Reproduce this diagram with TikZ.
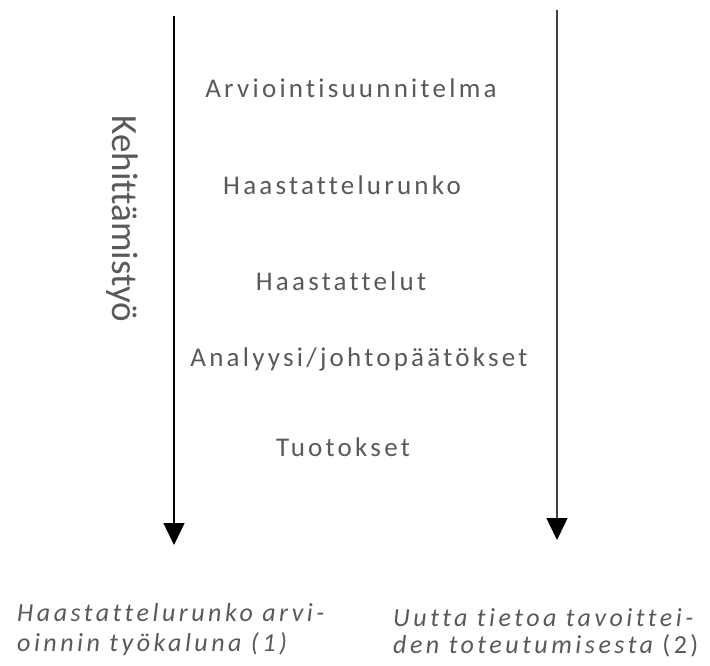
\documentclass[tikz,border=0pt]{standalone}
\usepackage{fontspec}
\setmainfont{Carlito}[Ligatures=NoCommon]
\newfontfamily\spacedfont{Carlito}[LetterSpace=12, Ligatures=NoCommon]
\newfontfamily\widefont{Carlito}[LetterSpace=13.5, Ligatures=NoCommon]
\usetikzlibrary{arrows.meta}
\definecolor{txtgray}{HTML}{595959}
\tikzset{
	step label/.style={anchor=base, text=txtgray, font=\spacedfont\fontsize{27}{30}\selectfont, inner sep=0pt},
	out label/.style={anchor=base west, text=txtgray, font=\widefont\itshape\fontsize{26}{30}\selectfont, inner sep=0pt},
	flow/.style={line width=1.5pt, -{Triangle[width=21pt,length=22pt,color=black]}}
}

\begin{document}
\begin{tikzpicture}[x=1pt, y=1pt]
			\useasboundingbox (0,0) rectangle (710,-666);
			% the two time lines
			\coordinate (ltop) at (174,-16);
			\coordinate (lbot) at (174,-545);
			\coordinate (rtop) at (557,-10);
			\coordinate (rbot) at (557,-540);
			\draw[flow] (ltop) -- (lbot);
			\draw[flow, draw=black!75] (rtop) -- (rbot);
			\node[rotate=-90, anchor=base, text=txtgray, inner sep=0pt, font=\fontsize{37}{40}\selectfont] (kehitys) at (112,-219) {Kehittämistyö};
			% steps
			\node[step label] (suunnitelma) at (351,-98) {Arviointisuunnitelma};
			\node[step label] (runko) at (342,-194) {Haastattelurunko};
			\node[step label] (haastattelut) at (341,-290) {Haastattelut};
			\node[step label] (analyysi) at (359,-366) {Analyysi/johtopäätökset};
			\node[step label] (tuotokset) at (343,-456) {Tuotokset};
			% outcomes
			\node[out label] (tulos1a) at (17,-621) {Haastattelurunko arvi-};
			\node[out label] (tulos1b) at (17,-651) {oinnin työkaluna (1)};
			\node[out label] (tulos2a) at (393,-626) {Uutta tietoa tavoittei-};
			\node[out label] (tulos2b) at (393,-653) {den toteutumisesta {\upshape(2)}};
		\end{tikzpicture}
\end{document}
